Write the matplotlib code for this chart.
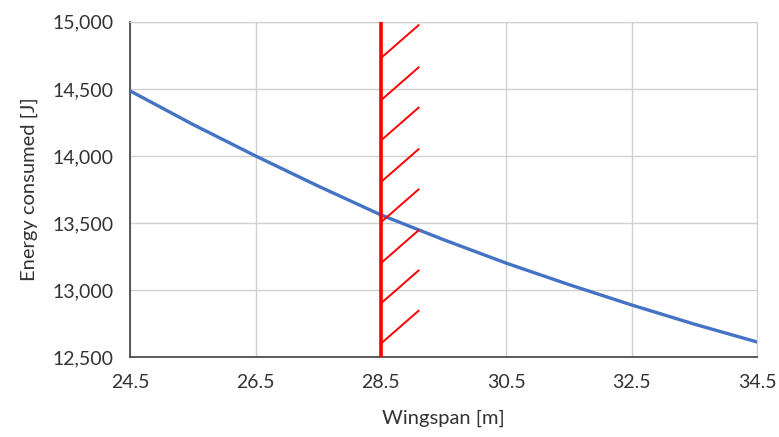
import matplotlib.pyplot as plt
import numpy as np

# datos
wingspan = [24.5, 25.5, 26.5, 27.5, 28.5, 29.5, 30.5, 31.5, 32.5, 33.5, 34.5]
energy = [14485, 14235, 14000, 13775, 13560, 13375, 13200, 13040, 12888, 12745, 12612]

limit_x = 28.5
hatch_y0 = [12600, 12900, 13200, 13505, 13805, 14115, 14415, 14730]
hatch_dx = 0.6
hatch_dy = 245

plt.rcParams['font.family'] = ['Lato', 'DejaVu Sans']

fig, ax = plt.subplots(figsize=(7.79, 4.37), dpi=100)
fig.subplots_adjust(left=0.167, right=0.972, top=0.95, bottom=0.183)

ax.plot(wingspan, energy, color='#4472C4', linewidth=2.4, zorder=3)

ax.plot([limit_x, limit_x], [12500, 15000], color='#FF0000', linewidth=2.6,
        zorder=4, solid_capstyle='butt', clip_on=False)
for y0 in hatch_y0:
    ax.plot([limit_x, limit_x + hatch_dx], [y0, y0 + hatch_dy],
            color='#FF0000', linewidth=1.4, zorder=4)

ax.set_xlim(24.5, 34.5)
ax.set_ylim(12500, 15000)
ax.set_xticks(np.arange(24.5, 34.6, 2))
ax.set_yticks(np.arange(12500, 15001, 500))
ax.yaxis.set_major_formatter(plt.FuncFormatter(lambda v, p: f'{v:,.0f}'))
ax.grid(True, color='#D0D0D0', linewidth=1)
ax.set_axisbelow(True)
ax.tick_params(length=0, labelsize=14, colors='#333333')
ax.tick_params(axis='x', pad=12)
ax.tick_params(axis='y', pad=12)

for side in ['top', 'right']:
    ax.spines[side].set_color('#D0D0D0')
for side in ['left', 'bottom']:
    ax.spines[side].set_color('#404040')
    ax.spines[side].set_linewidth(1.2)

ax.set_xlabel('Wingspan [m]', fontsize=14.5, color='#333333', labelpad=14)
ax.set_ylabel('Energy consumed [J]', fontsize=14.5, color='#333333', labelpad=10)

plt.savefig('out.png')
